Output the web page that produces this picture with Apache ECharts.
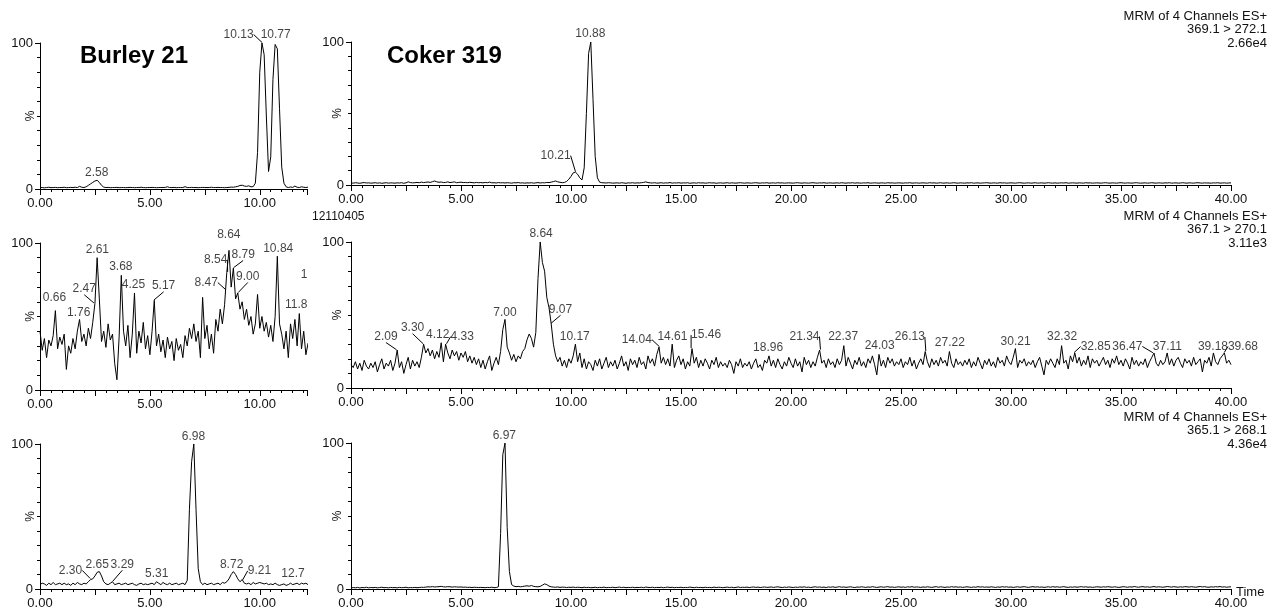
<!DOCTYPE html>
<html>
<head>
<meta charset="utf-8">
<title>MRM chromatograms</title>
<script src="https://cdn.jsdelivr.net/npm/echarts@6/dist/echarts.min.js"></script>
<style>
  html, body { margin: 0; padding: 0; background: #fff; }
  #main { width: 1272px; height: 610px; }
</style>
</head>
<body>
<div id="main"></div>
<script>
// sampling interval of the traces (min)
var STEP = 0.1;

// ---- Burley 21, 369.1 > 272.1 (0 - 12.2 min)
var burleyA = [
  1,1,0.8,1,1.2,0.9,1,1.1,0.9,1,
  1,1.2,0.9,1,1.1,1,1.2,1,1.8,1.2,
  1,1.5,2.5,3.5,4.5,5.5,6,4.5,2.5,1.3,
  1,1.1,0.9,1,1,1.1,0.9,1,1,0.9,
  1,1.1,1,0.9,1,1,1.2,1,0.9,1,
  1,1.1,1,0.9,1,1,1,1.1,1.5,1,
  1,1.1,0.9,1,1,1,1.6,1,1,1.1,
  1,1,0.9,1,1.1,1,1,1,1.2,1,
  1,1.1,1,1,0.9,1,1.1,1.3,1.2,1.5,
  1.8,2.4,2.6,2,1.8,2.2,1.5,1.6,4,25,
  80,100,92,50,12,22,75,99,96,55,
  15,4,1.5,1,1.4,1.1,2,1.2,1,1.5,
  1.2,1,1.3
];
// ---- Coker 319, 369.1 > 272.1 (0 - 40 min)
var cokerA = [
  1.5,1.3,1.6,1.4,1.2,1.5,1.7,1.4,1.5,1.3,
  1.4,1.6,1.3,1.5,1.2,1.4,1.6,1.3,1.5,1.4,
  1.3,1.5,1.4,1.6,1.2,1.5,2.2,1.7,1.5,1.6,
  1.8,1.6,2.0,1.7,1.9,2.1,1.8,2.3,2.8,2.2,
  1.9,2.1,1.7,1.8,2.2,1.7,1.9,2.2,1.6,1.8,
  2.0,1.7,1.8,1.6,1.9,1.7,1.5,1.8,1.6,1.7,
  1.5,1.8,1.6,2.0,1.5,1.6,1.4,1.7,1.5,1.6,
  1.4,1.6,1.5,1.3,1.6,1.5,1.7,1.4,1.5,1.3,
  1.5,1.4,1.6,1.3,1.5,1.7,1.4,1.6,1.5,1.8,
  1.7,2.0,2.4,2.8,2.2,1.9,1.6,1.8,2.5,4.0,
  6.0,8.5,9.0,7.5,5.0,3.5,12,50,92,100,
  60,20,5.0,2.0,1.6,1.5,1.4,1.6,1.5,1.3,
  1.4,1.5,1.3,1.6,1.4,1.2,1.5,1.4,1.6,1.3,
  1.5,1.4,1.6,1.8,2.2,1.7,1.5,1.4,1.6,1.3,
  1.4,1.6,1.3,1.5,1.4,1.7,1.3,1.5,1.4,1.6,
  1.3,1.5,1.4,1.6,1.2,1.4,1.5,1.3,1.6,1.4,
  1.5,1.3,1.4,1.6,1.4,1.5,1.2,1.4,1.5,1.3,
  1.4,1.6,1.3,1.5,1.4,1.3,1.5,1.6,1.4,1.3,
  1.5,1.4,1.3,1.5,1.6,1.4,1.3,1.5,1.4,1.6,
  1.3,1.4,1.5,1.3,1.6,1.4,1.5,1.3,1.4,1.5,
  1.4,1.3,1.5,1.6,1.4,1.3,1.5,1.4,1.3,1.5,
  1.6,1.4,1.3,1.5,1.4,1.6,1.3,1.4,1.5,1.3,
  1.4,1.5,1.3,1.6,1.4,1.3,1.5,1.4,1.6,1.3,
  1.5,1.4,1.3,1.5,1.4,1.6,1.3,1.4,1.5,1.4,
  1.3,1.5,1.4,1.3,1.6,1.4,1.5,1.3,1.4,1.5,
  1.4,1.3,1.5,1.4,1.6,1.3,1.4,1.5,1.3,1.4,
  1.5,1.4,1.3,1.6,1.4,1.5,1.3,1.4,1.6,1.3,
  1.4,1.5,1.3,1.4,1.6,1.4,1.3,1.5,1.4,1.3,
  1.5,1.4,1.6,1.3,1.4,1.5,1.3,1.4,1.5,1.6,
  1.4,1.3,1.5,1.4,1.3,1.6,1.4,1.5,1.3,1.4,
  1.5,1.4,1.3,1.5,1.6,1.4,1.3,1.4,1.5,1.3,
  1.4,1.6,1.3,1.4,1.5,1.3,1.4,1.6,1.4,1.3,
  1.5,1.3,1.4,1.5,1.4,1.6,1.3,1.4,1.5,1.4,
  1.3,1.5,1.4,1.3,1.6,1.4,1.5,1.3,1.4,1.5,
  1.4,1.3,1.5,1.6,1.4,1.3,1.5,1.4,1.3,1.5,
  1.6,1.4,1.3,1.5,1.4,1.3,1.5,1.6,1.4,1.3,
  1.4,1.5,1.3,1.4,1.6,1.4,1.3,1.5,1.4,1.3,
  1.5,1.4,1.6,1.3,1.4,1.5,1.3,1.4,1.6,1.4,
  1.3,1.5,1.4,1.3,1.5,1.6,1.4,1.3,1.5,1.4,
  1.4,1.3,1.5,1.4,1.6,1.3,1.4,1.5,1.3,1.4,
  1.5
];

// ---- Burley 21, 367.1 > 270.1
var burleyB = [
  40,27,35,22,34,30,37,54,28,36,
  31,38,14,30,25,35,28,40,48,33,
  38,30,42,35,46,59,90,62,33,40,
  29,45,34,38,18,7,36,78,40,30,
  44,22,38,66,25,40,32,46,28,37,
  24,40,61,30,38,26,34,22,36,28,
  33,20,35,27,31,22,37,30,42,35,
  45,33,40,22,63,35,44,28,38,25,
  48,40,55,45,58,80,95,70,83,62,
  66,55,60,48,55,44,50,38,45,65,
  42,50,40,46,36,44,33,50,91,45,
  38,28,40,22,45,35,48,30,52,28,
  40,24,32
];
// ---- Coker 319, 367.1 > 270.1
var cokerB = [
  16,14,18,13,17,12,19,15,13,17,
  14,18,11,16,20,13,17,15,19,12,
  17,26,14,18,10,16,21,13,19,15,
  18,14,21,30,24,27,22,26,20,25,
  21,31,18,30,24,20,26,22,25,19,
  24,21,25,18,22,17,21,16,20,14,
  19,13,18,22,12,17,21,16,25,40,
  47,28,24,19,23,18,22,20,25,27,
  33,37,34,28,38,75,100,86,80,62,
  55,44,30,22,18,21,15,19,14,20,
  17,22,30,18,24,14,20,13,18,16,
  12,19,15,20,13,17,21,14,18,15,
  19,13,17,22,15,18,12,20,16,19,
  14,21,16,18,13,22,17,20,15,23,
  28,17,21,16,20,15,30,14,19,22,
  16,20,13,18,15,27,17,21,14,19,
  15,20,17,13,19,16,21,14,18,15,
  17,14,19,16,10,18,15,20,14,17,
  15,18,13,17,20,14,16,12,19,17,
  22,15,19,14,20,16,13,18,15,21,
  17,14,20,15,18,11,21,16,19,14,
  18,15,21,26,17,19,14,20,16,18,
  14,20,16,19,29,15,21,17,13,19,
  16,21,15,18,14,20,17,22,16,9,
  23,15,19,14,21,17,20,15,18,16,
  20,14,18,16,21,15,19,13,17,20,
  16,25,18,14,20,16,19,15,21,17,
  19,15,25,17,14,20,16,18,15,19,
  16,20,14,18,15,21,17,13,19,16,
  20,15,18,14,21,17,19,15,22,18,
  16,21,27,14,19,17,20,15,18,16,
  19,14,18,21,15,9,19,16,20,17,
  14,20,16,29,17,19,13,22,18,24,
  17,21,15,19,16,22,14,20,17,19,
  15,18,21,16,19,14,20,17,22,16,
  19,15,20,17,13,21,16,19,15,18,
  16,20,14,18,21,24,17,15,19,16,
  18,24,16,20,15,19,21,17,14,20,
  17,19,15,21,16,18,20,11,19,17,
  21,15,24,18,16,20,22,24,17,19,
  16
];

// ---- Burley 21, 365.1 > 268.1
var burleyC = [
  3,4,3.5,2.5,4,3,4.5,3,3.5,4,
  3,4,3,3.5,2.5,4,3,4.5,3.5,3,
  4,3.5,5,6.5,7,9,11.5,12,9,5,
  3.5,3,4,5,3,3.5,4,3,3.5,4,
  3,3.5,4,3,2.5,3.5,4,3,3.5,3,
  3.5,4,3,5,4,3,4.5,3.5,3,4,
  3,3.5,4,3,3.5,4,3,6,55,88,
  100,55,14,5,3,4,3,3.5,4,3,
  3.5,4,3,4.5,4,5,7,10,12,10,
  7,5,6.5,4,3.5,4,3,4.5,3.5,4,
  4.5,4,3.5,4,3,3.5,3,4,3,2.5,
  3,3.5,2.5,3,4,3,3.5,4,3,4,
  3.5,4,3
];
// ---- Coker 319, 365.1 > 268.1
var cokerC = [
  0.6,1.0,0.8,1.1,0.7,1.0,0.9,1.2,0.8,1.0,
  0.9,1.1,0.8,1.0,1.2,0.9,1.0,0.8,1.1,0.9,
  1.0,0.8,1.1,0.9,1.0,1.2,0.8,1.0,0.9,1.1,
  0.9,1.0,1.2,1.1,1.3,1.5,1.4,1.6,1.4,1.5,
  1.6,1.8,1.5,1.4,1.6,1.5,1.3,1.5,1.4,1.3,
  1.4,1.2,1.3,1.1,1.2,1.0,1.2,1.1,1.0,1.1,
  1.0,0.9,1.1,1.0,1.2,0.9,1.0,1.5,38,92,
  100,42,12,3.0,2.0,1.6,1.8,1.5,1.7,2.0,
  2.2,1.9,2.4,1.8,1.6,1.5,1.8,2.6,3.5,3.0,
  2.0,1.5,1.3,1.2,1.4,1.1,1.3,1.2,1.0,1.2,
  1.1,1.3,1.0,1.2,1.1,0.9,1.2,1.0,1.1,0.9,
  1.0,1.2,0.9,1.1,1.0,1.3,0.9,1.1,1.0,1.2,
  0.9,1.1,1.3,1.0,1.2,0.9,1.1,1.0,1.2,0.9,
  1.1,1.0,1.2,0.9,1.3,1.1,1.0,1.2,0.9,1.1,
  1.0,1.2,0.9,1.1,1.3,1.0,1.2,0.9,1.1,1.0,
  1.2,0.9,1.1,1.0,1.3,1.1,0.9,1.2,1.0,1.1,
  0.9,1.2,1.0,1.1,0.9,1.3,1.0,1.2,1.1,0.9,
  1.1,1.3,1.0,1.2,0.9,1.1,1.4,1.0,1.2,1.1,
  1.3,1.0,1.2,1.4,1.1,1.3,1.0,1.2,1.4,1.1,
  1.2,1.4,1.1,1.3,1.5,1.2,1.0,1.3,1.1,1.4,
  1.2,1.0,1.3,1.1,1.4,1.2,1.5,1.1,1.3,1.0,
  1.3,1.5,1.2,1.4,1.1,1.3,1.0,1.4,1.2,1.5,
  1.1,1.3,1.6,1.2,1.4,1.1,1.3,1.5,1.2,1.0,
  1.4,1.2,1.5,1.3,1.1,1.4,1.2,1.6,1.3,1.1,
  1.3,1.5,1.2,1.4,1.6,1.2,1.4,1.1,1.3,1.5,
  1.2,1.4,1.1,1.5,1.3,1.6,1.2,1.4,1.3,1.1,
  1.4,1.2,1.5,1.3,1.1,1.4,1.6,1.2,1.5,1.3,
  1.1,1.4,1.2,1.6,1.3,1.5,1.2,1.4,1.1,1.3,
  1.5,1.3,1.1,1.4,1.2,1.6,1.3,1.5,1.2,1.4,
  1.2,1.5,1.3,1.1,1.4,1.2,1.6,1.3,1.5,1.2,
  1.4,1.1,1.3,1.5,1.2,1.4,1.6,1.3,1.1,1.4,
  1.6,1.3,1.5,1.2,1.4,1.1,1.3,1.5,1.2,1.6,
  1.3,1.5,1.2,1.4,1.6,1.3,1.1,1.4,1.2,1.5,
  1.2,1.4,1.6,1.3,1.5,1.2,1.4,1.1,1.3,1.5,
  1.4,1.2,1.5,1.3,1.6,1.4,1.2,1.5,1.3,1.1,
  1.3,1.6,1.4,1.2,1.5,1.3,1.7,1.4,1.2,1.5,
  1.6,1.3,1.5,1.2,1.4,1.7,1.3,1.5,1.4,1.2,
  1.4,1.7,1.5,1.3,1.6,1.4,1.2,1.5,1.3,1.6,
  1.5,1.3,1.6,1.4,1.2,1.5,1.7,1.4,1.6,1.3,
  1.2,1.5,1.3,1.6,1.4,1.7,1.3,1.5,1.2,1.4,
  1.5
];

// ---- labelled peaks [time, %] and their label texts
var burleyAPeaks = [[2.58, 6], [10.13, 100], [10.77, 100]];
var burleyAText = ['2.58', '10.13', '10.77'];
var cokerAPeaks = [[10.21, 9], [10.88, 100]];
var cokerAText = ['10.21', '10.88'];
var burleyBPeaks = [[0.66, 54], [1.76, 48], [2.47, 59], [2.61, 90], [3.68, 78], [4.25, 66], [5.17, 61],
  [8.47, 68], [8.54, 80], [8.64, 95], [8.79, 83], [9.00, 66], [10.84, 91], [11.84, 52], [12.15, 71]];
var burleyBText = ['0.66', '1.76', '2.47', '2.61', '3.68', '4.25', '5.17',
  '8.47', '8.54', '8.64', '8.79', '9.00', '10.84', '11.8', '1'];
var cokerBPeaks = [[2.09, 26], [3.30, 30], [4.12, 31], [4.33, 30], [7.00, 47], [8.64, 100], [9.07, 44],
  [10.17, 30], [14.04, 28], [14.61, 30], [15.46, 27], [18.96, 22], [21.34, 26], [22.37, 29], [24.03, 23],
  [26.13, 25], [27.22, 25], [30.21, 27], [32.32, 29], [32.85, 24], [36.47, 24], [37.11, 24], [39.18, 24], [39.68, 24]];
var cokerBText = ['2.09', '3.30', '4.12', '4.33', '7.00', '8.64', '9.07',
  '10.17', '14.04', '14.61', '15.46', '18.96', '21.34', '22.37', '24.03',
  '26.13', '27.22', '30.21', '32.32', '32.85', '36.47', '37.11', '39.18', '39.68'];
var burleyCPeaks = [[2.30, 7], [2.65, 12], [3.29, 5], [5.31, 5], [6.98, 100], [8.72, 12], [9.21, 6], [12.15, 5]];
var burleyCText = ['2.30', '2.65', '3.29', '5.31', '6.98', '8.72', '9.21', '12.7'];
var cokerCPeaks = [[6.97, 100]];
var cokerCText = ['6.97'];

// ---- axis tick labels
var leftTicks = ['0.00', '5.00', '10.00'];
var rightTicks = ['0.00', '5.00', '10.00', '15.00', '20.00', '25.00', '30.00', '35.00', '40.00'];
var yTicks = ['0', '100'];

// ---- channel headers
var channels = [
  ['MRM of 4 Channels ES+', '369.1 > 272.1', '2.66e4'],
  ['MRM of 4 Channels ES+', '367.1 > 270.1', '3.11e3'],
  ['MRM of 4 Channels ES+', '365.1 > 268.1', '4.36e4']
];

// label nudges in px [dx, dy, leader line]
var offA1 = [[0, 1, 0], [-24, 0, 1], [-1, 0, 0]];
var offA2 = [[-20, -8, 1], [0, 0, 0]];
var offB1 = [[0, -4, 0], [0, 2, 0], [-10, -6, 1], [0, 0, 0], [0, 0, 0], [0, 0, 0], [10, -6, 1],
  [-20, 1, 1], [-12, -4, 1], [-1, -7, 0], [10, -5, 1], [10, -8, 1], [0, 1, 0], [-4, 0, 0], [-3, -2, 0]];
var offB2 = [[-11, -5, 1], [-11, -8, 1], [-4, 0, 0], [16, 1, 1], [0, 2, 0], [0, 0, 0], [10, -6, 1],
  [0, 1, 0], [-23, 1, 1], [0, 1, 0], [15, -5, 1], [0, 0, 0], [-16, -5, 1], [0, 0, 0], [0, 0, 0],
  [-16, -6, 1], [0, 0, 0], [0, 2, 0], [0, 0, 0], [22, 2, 1], [-26, 2, 1], [0, 2, 0], [0, 2, 0], [19, 2, 1]];
var offC1 = [[-20, 0, 1], [-1, 2, 0], [10, -9, 1], [0, 0, 0], [0, 1, 0], [0, 2, 0], [17, -1, 1], [-14, 0, 0]];
var offC2 = [[0, 1, 0]];

var FONT = 'Liberation Sans, Arial, sans-serif';
var INK = '#111';

var panels = [
  { grid: { left: 40, top: 43, width: 267, height: 146 }, max: 12.15, gap: 3, ticks: leftTicks, trace: burleyA, peaks: burleyAPeaks, text: burleyAText, off: offA1 },
  { grid: { left: 351, top: 42, width: 880, height: 143 }, max: 40, gap: 7, ticks: rightTicks, trace: cokerA, peaks: cokerAPeaks, text: cokerAText, off: offA2 },
  { grid: { left: 40, top: 243, width: 267, height: 147 }, max: 12.15, gap: 3, ticks: leftTicks, trace: burleyB, peaks: burleyBPeaks, text: burleyBText, off: offB1 },
  { grid: { left: 351, top: 242, width: 880, height: 146 }, max: 40, gap: 7, ticks: rightTicks, trace: cokerB, peaks: cokerBPeaks, text: cokerBText, off: offB2 },
  { grid: { left: 40, top: 444, width: 267, height: 147 }, max: 12.15, gap: 3, ticks: leftTicks, trace: burleyC, peaks: burleyCPeaks, text: burleyCText, off: offC1 },
  { grid: { left: 351, top: 443, width: 880, height: 146 }, max: 40, gap: 7, ticks: rightTicks, trace: cokerC, peaks: cokerCPeaks, text: cokerCText, off: offC2 }
];

var grids = [], xAxes = [], yAxes = [], series = [];
panels.forEach(function (p, i) {
  grids.push(p.grid);
  xAxes.push({
    type: 'value', gridIndex: i, min: 0, max: p.max, interval: 2.5,
    axisLine: { lineStyle: { color: '#000', width: 1 } },
    axisTick: { length: 6, lineStyle: { color: '#000' } },
    minorTick: { show: true, splitNumber: 5, length: 3, lineStyle: { color: '#000' } },
    splitLine: { show: false },
    axisLabel: {
      margin: 8, color: INK, fontFamily: FONT, fontSize: 13,
      showMaxLabel: true,
      formatter: function (v) {
        return (v % 5 === 0 && p.ticks[v / 5] !== undefined) ? p.ticks[v / 5] : '';
      }
    }
  });
  yAxes.push({
    type: 'value', gridIndex: i, min: 0, max: 100, interval: 100,
    name: '%', nameLocation: 'middle', nameRotate: 90, nameGap: p.gap,
    nameMoveOverlap: false,
    nameTextStyle: { color: INK, fontFamily: FONT, fontSize: 12 },
    axisLine: { show: true, lineStyle: { color: '#000', width: 1 } },
    axisTick: { show: true, length: 5, lineStyle: { color: '#000' } },
    minorTick: { show: true, splitNumber: 10, length: 3, lineStyle: { color: '#000' } },
    splitLine: { show: false },
    axisLabel: {
      margin: 7, color: INK, fontFamily: FONT, fontSize: 13,
      formatter: function (v) { return v === 0 ? yTicks[0] : (v === 100 ? yTicks[1] : ''); }
    }
  });
  series.push({
    type: 'line', xAxisIndex: i, yAxisIndex: i,
    data: p.trace.map(function (v, k) { return [k * STEP, v]; }),
    showSymbol: false, symbol: 'none', sampling: null,
    lineStyle: { color: '#000', width: 1 },
    silent: true, z: 2
  });
  series.push({
    type: 'scatter', xAxisIndex: i, yAxisIndex: i,
    data: p.peaks.map(function (pk, k) {
      return { value: pk, labelLine: { show: p.off[k][2] === 1 } };
    }),
    symbol: 'circle', symbolSize: 1,
    itemStyle: { color: 'rgba(0,0,0,0)' },
    clip: false, silent: true, z: 5,
    label: {
      show: true, position: 'top', distance: 2,
      color: INK, fontFamily: FONT, fontSize: 12,
      formatter: function (params) { return p.text[params.dataIndex]; }
    },
    labelLine: { show: false, lineStyle: { color: '#000', width: 1 } },
    labelLayout: function (params) {
      var o = p.off[params.dataIndex];
      return { dx: o[0], dy: o[1] };
    }
  });
});

var graphics = [
  { type: 'text', x: 80, y: 56, style: { text: 'Burley 21', font: 'bold 24px ' + FONT, fill: '#000', textAlign: 'left', textVerticalAlign: 'middle' } },
  { type: 'text', x: 387, y: 56, style: { text: 'Coker 319', font: 'bold 24px ' + FONT, fill: '#000', textAlign: 'left', textVerticalAlign: 'middle' } },
  { type: 'text', x: 312, y: 217, style: { text: '12110405', font: '12px ' + FONT, fill: INK, textAlign: 'left', textVerticalAlign: 'middle' } },
  { type: 'text', x: 1236, y: 592, style: { text: 'Time', font: '13px ' + FONT, fill: INK, textAlign: 'left', textVerticalAlign: 'middle' } }
];
var headerTop = [42, 242, 443];
channels.forEach(function (lines, r) {
  lines.forEach(function (t, k) {
    graphics.push({
      type: 'text', x: 1267, y: headerTop[r] - 26 + k * 13.5,
      style: { text: t, font: '13px ' + FONT, fill: INK, textAlign: 'right', textVerticalAlign: 'middle' }
    });
  });
});

var chart = echarts.init(document.getElementById('main'), null, { renderer: 'canvas' });
chart.setOption({
  animation: false,
  backgroundColor: '#fff',
  grid: grids,
  xAxis: xAxes,
  yAxis: yAxes,
  series: series,
  graphic: graphics
});
</script>
</body>
</html>
